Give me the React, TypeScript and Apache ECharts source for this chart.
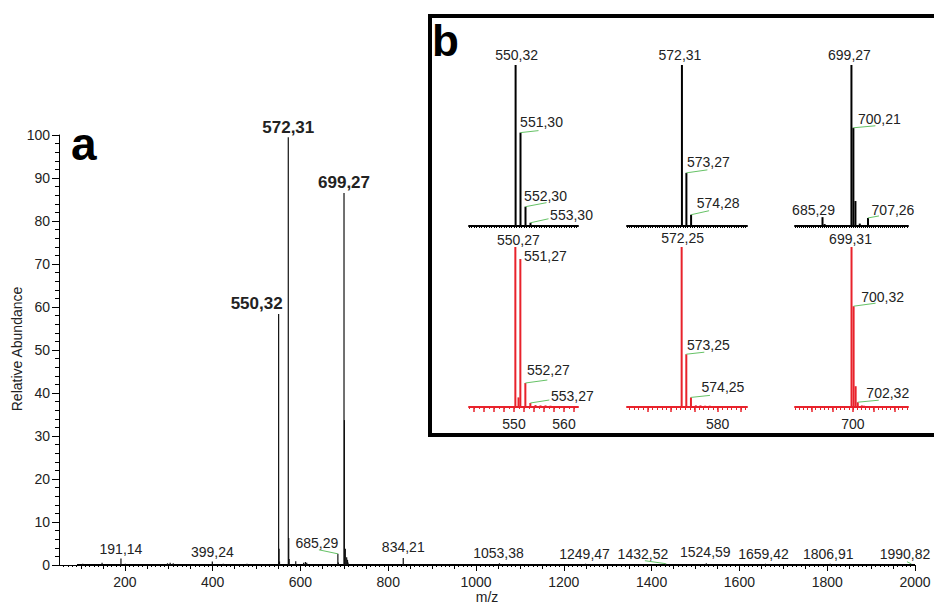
import React, { useEffect, useRef } from "react";
import * as echarts from "echarts";

const FONT = '"Liberation Sans", Arial, Helvetica, sans-serif';
const TEXT = "#222222";
const RED = "#e8222b";
const GREEN = "#66c266";

// ---------- (a) full spectrum ----------
const mainMz = [104.1, 148.1, 191.14, 201.1, 297.2, 303.2, 310.2, 399.24, 424.2, 478.3, 550.32, 551.3, 552.31, 572.31, 573.27, 574.28, 589.3, 607.3, 611.3, 614.3, 685.29, 686.3, 699.27, 700.21, 702.3, 705.3, 707.26, 708.3, 834.21, 1053.38, 1249.47, 1432.52, 1524.59, 1659.42, 1806.91, 1990.82];
const mainAbund = [0.3, 0.5, 1.5, 0.3, 0.4, 0.5, 0.4, 0.8, 0.3, 0.3, 58.4, 3.8, 0.8, 99.5, 6.3, 1.4, 0.9, 0.5, 0.7, 0.5, 2.6, 0.6, 86.5, 33.7, 3.8, 1.8, 1.2, 0.6, 1.6, 0.4, 0.3, 0.3, 0.4, 0.3, 0.3, 0.3];
const mainScanRange = [91, 2000];
const mainXRange = [50, 2000];
const mainXTickLabels = [200, 400, 600, 800, 1000, 1200, 1400, 1600, 1800, 2000];
const mainLabelMz = [550.32, 572.31, 699.27, 191.14, 399.24, 685.29, 834.21, 1053.38, 1249.47, 1432.52, 1524.59, 1659.42, 1806.91, 1990.82];
const mainLabelText = ["550,32", "572,31", "699,27", "191,14", "399,24", "685,29", "834,21", "1053,38", "1249,47", "1432,52", "1524,59", "1659,42", "1806,91", "1990,82"];

// ---------- (b) inset, top row (black) ----------
const a1Mz = [550.32, 551.3, 552.3, 553.3];
const a1Abund = [100, 58, 12, 2];
const a1LabelMz = [550.32, 551.3, 552.3, 553.3];
const a1LabelText = ["550,32", "551,30", "552,30", "553,30"];

const a2Mz = [572.31, 573.27, 574.28];
const a2Abund = [100, 33, 7];
const a2LabelMz = [572.31, 573.27, 574.28];
const a2LabelText = ["572,31", "573,27", "574,28"];

const a3Mz = [685.29, 686.3, 699.27, 700.21, 701.2, 703.3, 707.26];
const a3Abund = [5.5, 1.2, 100, 61, 15.5, 1.5, 5];
const a3LabelMz = [699.27, 700.21, 685.29, 707.26];
const a3LabelText = ["699,27", "700,21", "685,29", "707,26"];

// ---------- (b) inset, bottom row (red) ----------
const b1Mz = [550.27, 550.9, 551.27, 552.27, 553.27, 554.3, 555.3, 556.3, 557.3];
const b1Abund = [100, 6, 92.5, 15, 2.5, 1.2, 1, 1, 0.8];
const b1LabelMz = [550.27, 551.27, 552.27, 553.27];
const b1LabelText = ["550,27", "551,27", "552,27", "553,27"];
const b1TickLabels = [550, 560];

const b2Mz = [572.25, 573.25, 574.25, 575.3, 576.3, 577.3, 578.3];
const b2Abund = [100, 33, 6, 1, 1, 0.8, 0.8];
const b2LabelMz = [572.25, 573.25, 574.25];
const b2LabelText = ["572,25", "573,25", "574,25"];
const b2TickLabels = [580];

const b3Mz = [699.31, 700.32, 701.3, 702.32, 704.3, 705.3, 706.3];
const b3Abund = [100, 63, 13, 3, 1, 0.8, 0.6];
const b3LabelMz = [699.31, 700.32, 702.32];
const b3LabelText = ["699,31", "700,32", "702,32"];
const b3TickLabels = [700];

const col1Range = [541, 562.8];
const col2Range = [560.5, 586.3];
const col3Range = [672, 726.6];

// ---------- layout (pixels): label centre offset from peak top, optional leader end offset from label centre ----------
type Lay = { dx: number; dy: number; ex?: number; ey?: number; bold?: boolean };
const mainLayout: Lay[] = [
  { dx: -22, dy: -10, bold: true },
  { dx: 0, dy: -10, bold: true },
  { dx: 0, dy: -11, bold: true },
  { dx: 0, dy: -10 },
  { dx: 0, dy: -10 },
  { dx: -21, dy: -11, ex: 2, ey: 7 },
  { dx: 0, dy: -11 },
  { dx: -1, dy: -10 },
  { dx: -1, dy: -10 },
  { dx: -23, dy: -10, ex: 2, ey: 7 },
  { dx: -1, dy: -11 },
  { dx: -2, dy: -10 },
  { dx: -2, dy: -10 },
  { dx: -6, dy: -10, ex: 2, ey: 8 },
];
const a1Layout: Lay[] = [
  { dx: 1, dy: -10 },
  { dx: 21, dy: -11, ex: -3, ey: 9 },
  { dx: 20, dy: -11, ex: 1, ey: 7 },
  { dx: 41, dy: -8, ex: -23, ey: 4 },
];
const a2Layout: Lay[] = [
  { dx: -2, dy: -10 },
  { dx: 22, dy: -11, ex: -1, ey: 8 },
  { dx: 27, dy: -12, ex: -9, ey: 8 },
];
const a3Layout: Lay[] = [
  { dx: -2, dy: -10 },
  { dx: 26, dy: -9, ex: -4, ey: 7 },
  { dx: -9, dy: -7 },
  { dx: 25, dy: -8, ex: -14, ey: 6 },
];
const b1Layout: Lay[] = [
  { dx: 3, dy: -7 },
  { dx: 25, dy: -3 },
  { dx: 23, dy: -13, ex: -1, ey: 10 },
  { dx: 42, dy: -7, ex: -23, ey: 4 },
];
const b2Layout: Lay[] = [
  { dx: 1, dy: -9 },
  { dx: 22, dy: -9, ex: -4, ey: 7 },
  { dx: 32, dy: -10, ex: -13, ey: 8 },
];
const b3Layout: Lay[] = [
  { dx: -1, dy: -8 },
  { dx: 29, dy: -9, ex: -7, ey: 6 },
  { dx: 30, dy: -9, ex: -9, ey: 7 },
];

function ticks(a: number, b: number, s: number) {
  const r: number[] = [];
  for (let v = a; v <= b + 1e-9; v += s) r.push(+v.toFixed(3));
  return r;
}

function sticks(mz: number[], ab: number[], xi: number, yi: number, color: string, width: number) {
  return {
    type: "custom",
    xAxisIndex: xi,
    yAxisIndex: yi,
    silent: true,
    clip: false,
    z: 3,
    data: mz.map((m, i) => [m, ab[i]]),
    encode: { x: 0, y: 1 },
    renderItem: (_p: any, api: any) => {
      const x = api.value(0);
      const y = api.value(1);
      const p0 = api.coord([x, 0]);
      const p1 = api.coord([x, y]);
      return {
        type: "line",
        shape: { x1: p0[0], y1: p0[1], x2: p1[0], y2: p1[1] },
        style: { stroke: color, lineWidth: width },
      };
    },
  };
}

function labels(lmz: number[], ltext: string[], lay: Lay[], mz: number[], ab: number[], xi: number, yi: number) {
  return {
    type: "custom",
    xAxisIndex: xi,
    yAxisIndex: yi,
    silent: true,
    clip: false,
    z: 4,
    data: lmz.map((m) => [m, ab[mz.indexOf(m)]]),
    encode: { x: 0, y: 1 },
    renderItem: (params: any, api: any) => {
      const i = params.dataIndex;
      const L = lay[i];
      const p = api.coord([api.value(0), api.value(1)]);
      const cx = p[0] + L.dx;
      const cy = p[1] + L.dy;
      const children: any[] = [];
      if (L.ex !== undefined && L.ey !== undefined) {
        children.push({
          type: "line",
          shape: { x1: p[0], y1: p[1], x2: cx + L.ex, y2: cy + L.ey },
          style: { stroke: GREEN, lineWidth: 1 },
        });
      }
      children.push({
        type: "text",
        x: cx,
        y: cy,
        style: {
          text: ltext[i],
          fill: TEXT,
          font: `${L.bold ? "bold 17px" : "14px"} ${FONT}`,
          align: "center",
          verticalAlign: "middle",
        },
      });
      return { type: "group", children };
    },
  };
}

export default function App() {
  const ref = useRef<HTMLDivElement>(null);
  useEffect(() => {
    document.body.style.margin = "0";
    const chart = echarts.init(ref.current!, null, { renderer: "svg" });

    const g = (left: number, top: number, width: number, height: number) => ({
      left, top, width, height, outerBoundsMode: "none", containLabel: false,
    });
    const grids = [
      g(59, 135, 856, 430),
      g(469, 65, 109, 161),
      g(627, 65, 120, 161),
      g(795, 65, 113, 161),
      g(469, 247, 109, 160),
      g(627, 247, 120, 160),
      g(795, 247, 113, 160),
    ];

    const plain = (v: number) => String(v);
    const lab = { fontSize: 14, color: TEXT, fontFamily: FONT, formatter: plain };
    const noLine = { show: false };
    const xAx = (gi: number, range: number[], o: any) => ({
      type: "value", gridIndex: gi, min: range[0], max: range[1], position: "bottom",
      splitLine: { show: false }, ...o,
    });

    const xAxes: any[] = [
      // 0 main: long ticks + labels
      xAx(0, mainXRange, {
        axisLine: { show: true, onZero: false, lineStyle: { color: "#000", width: 1 } },
        axisTick: { show: true, customValues: mainXTickLabels, length: 6, lineStyle: { color: "#000" } },
        axisLabel: { show: true, customValues: mainXTickLabels, margin: 10, ...lab },
      }),
      // 1 main: medium ticks
      xAx(0, mainXRange, {
        axisLine: { show: false, onZero: false },
        axisTick: { show: true, customValues: ticks(100, 2000, 50), length: 4, lineStyle: { color: "#000" } },
        axisLabel: { show: false },
      }),
      // 2 main: small ticks
      xAx(0, mainXRange, {
        axisLine: { show: false, onZero: false },
        axisTick: { show: true, customValues: ticks(60, 2000, 10), length: 2, lineStyle: { color: "#000" } },
        axisLabel: { show: false },
      }),
      // 3-5 black inset axes
      xAx(1, col1Range, {
        axisLine: { show: true, onZero: false, lineStyle: { color: "#000", width: 2 } },
        axisTick: { show: true, customValues: ticks(541, 562.5, 0.5), length: 2, lineStyle: { color: "#000" } },
        axisLabel: { show: false },
      }),
      xAx(2, col2Range, {
        axisLine: { show: true, onZero: false, lineStyle: { color: "#000", width: 2 } },
        axisTick: { show: true, customValues: ticks(560.5, 586, 0.5), length: 2, lineStyle: { color: "#000" } },
        axisLabel: { show: false },
      }),
      xAx(3, col3Range, {
        axisLine: { show: true, onZero: false, lineStyle: { color: "#000", width: 2 } },
        axisTick: { show: true, customValues: ticks(672, 726, 1), length: 2, lineStyle: { color: "#000" } },
        axisLabel: { show: false },
      }),
      // 6-8 red inset axes (major ticks + labels)
      xAx(4, col1Range, {
        axisLine: { show: true, onZero: false, lineStyle: { color: RED, width: 2 } },
        axisTick: { show: true, customValues: ticks(542, 562, 2), length: 5, lineStyle: { color: RED, width: 1.5 } },
        axisLabel: { show: true, customValues: b1TickLabels, margin: 10, ...lab },
      }),
      xAx(5, col2Range, {
        axisLine: { show: true, onZero: false, lineStyle: { color: RED, width: 2 } },
        axisTick: { show: true, customValues: ticks(565, 585, 5), length: 5, lineStyle: { color: RED, width: 1.5 } },
        axisLabel: { show: true, customValues: b2TickLabels, margin: 10, ...lab },
      }),
      xAx(6, col3Range, {
        axisLine: { show: true, onZero: false, lineStyle: { color: RED, width: 2 } },
        axisTick: { show: true, customValues: ticks(680, 720, 10), length: 5, lineStyle: { color: RED, width: 1.5 } },
        axisLabel: { show: true, customValues: b3TickLabels, margin: 10, ...lab },
      }),
      // 9-11 red minor ticks
      xAx(4, col1Range, {
        axisLine: noLine,
        axisTick: { show: true, customValues: ticks(541, 562, 1), length: 2, lineStyle: { color: RED } },
        axisLabel: { show: false },
      }),
      xAx(5, col2Range, {
        axisLine: noLine,
        axisTick: { show: true, customValues: ticks(561, 586, 1), length: 3, lineStyle: { color: RED } },
        axisLabel: { show: false },
      }),
      xAx(6, col3Range, {
        axisLine: noLine,
        axisTick: { show: true, customValues: ticks(672, 726, 2), length: 3, lineStyle: { color: RED } },
        axisLabel: { show: false },
      }),
    ];

    const yAxes: any[] = [
      {
        type: "value", gridIndex: 0, min: 0, max: 100, interval: 10,
        axisLine: { show: true, onZero: false, lineStyle: { color: "#000", width: 1 } },
        axisTick: { show: true, length: 7, lineStyle: { color: "#000" } },
        minorTick: { show: true, splitNumber: 5, length: 4, lineStyle: { color: "#000" } },
        axisLabel: { show: true, margin: 9, ...lab },
        splitLine: { show: false },
        minorSplitLine: { show: false },
      },
    ];
    for (let i = 1; i <= 6; i++) {
      yAxes.push({
        type: "value", gridIndex: i, min: 0, max: 100, show: false,
        splitLine: { show: false },
      });
    }

    const series: any[] = [
      {
        type: "line", xAxisIndex: 0, yAxisIndex: 0, silent: true, symbol: "none", z: 2,
        data: [[mainScanRange[0], 0], [mainScanRange[1], 0]],
        lineStyle: { color: "#000", width: 2 },
      },
      sticks(mainMz, mainAbund, 0, 0, "#111", 1.2),
      labels(mainLabelMz, mainLabelText, mainLayout, mainMz, mainAbund, 0, 0),
      sticks(a1Mz, a1Abund, 3, 1, "#000", 2),
      labels(a1LabelMz, a1LabelText, a1Layout, a1Mz, a1Abund, 3, 1),
      sticks(a2Mz, a2Abund, 4, 2, "#000", 2),
      labels(a2LabelMz, a2LabelText, a2Layout, a2Mz, a2Abund, 4, 2),
      sticks(a3Mz, a3Abund, 5, 3, "#000", 2),
      labels(a3LabelMz, a3LabelText, a3Layout, a3Mz, a3Abund, 5, 3),
      sticks(b1Mz, b1Abund, 6, 4, RED, 2),
      labels(b1LabelMz, b1LabelText, b1Layout, b1Mz, b1Abund, 6, 4),
      sticks(b2Mz, b2Abund, 7, 5, RED, 2),
      labels(b2LabelMz, b2LabelText, b2Layout, b2Mz, b2Abund, 7, 5),
      sticks(b3Mz, b3Abund, 8, 6, RED, 2),
      labels(b3LabelMz, b3LabelText, b3Layout, b3Mz, b3Abund, 8, 6),
    ];

    chart.setOption({
      animation: false,
      backgroundColor: "#ffffff",
      grid: grids,
      xAxis: xAxes,
      yAxis: yAxes,
      series,
      graphic: [
        {
          type: "rect", z: -1,
          shape: { x: 430, y: 16, width: 520, height: 419 },
          style: { fill: "#ffffff", stroke: "#000000", lineWidth: 4 },
        },
        {
          type: "text", x: 71, y: 144, z: 10,
          style: { text: "a", fill: "#000", font: `bold 46px ${FONT}`, verticalAlign: "middle" },
        },
        {
          type: "text", x: 432, y: 40, z: 10,
          style: { text: "b", fill: "#000", font: `bold 44px ${FONT}`, verticalAlign: "middle" },
        },
        {
          type: "text", x: 17, y: 349, rotation: Math.PI / 2, z: 10,
          style: { text: "Relative Abundance", fill: TEXT, font: `14px ${FONT}`, align: "center", verticalAlign: "middle" },
        },
        {
          type: "text", x: 487, y: 597, z: 10,
          style: { text: "m/z", fill: TEXT, font: `14px ${FONT}`, align: "center", verticalAlign: "middle" },
        },
      ],
    });
    return () => chart.dispose();
  }, []);
  return <div ref={ref} style={{ width: 934, height: 606 }} />;
}
